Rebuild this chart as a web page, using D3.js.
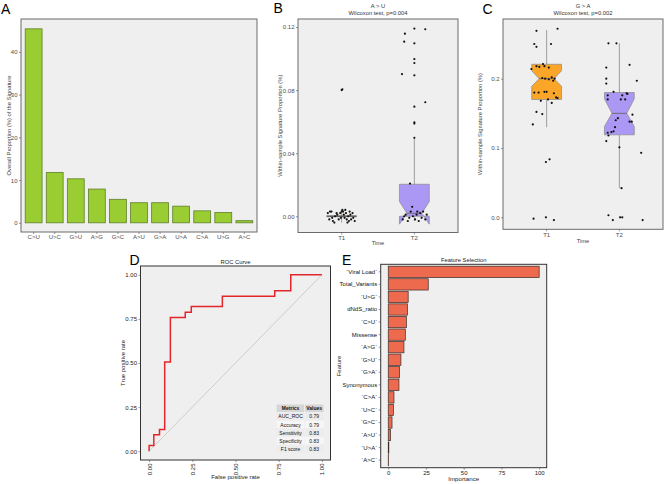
<!DOCTYPE html>
<html><head><meta charset="utf-8">
<script src="https://cdn.jsdelivr.net/npm/d3@7"></script>
<style>
body{margin:0;background:#fff;}
svg{display:block;font-family:"Liberation Sans",Arial,sans-serif;}
</style></head><body>
<svg id="chart" width="666" height="484"></svg>
<script>
// ---------- Panel A data ----------
const aCats = ["C>U","U>C","G>U","A>G","G>C","A>U","G>A","U>A","C>A","U>G","A>C"];
const aVals = [45.4,11.8,10.3,7.9,5.5,4.7,4.7,3.9,2.8,2.4,0.5];
const aTicks = [0,10,20,30,40];

// ---------- Panel B data (A > U) ----------
const groups = ["T1","T2"];
const bTicks = [0,0.04,0.08,0.12];
// box stats: [lowerWhisker, q1, median, q3, upperWhisker, notchLow, notchHigh]
const bBoxT1 = [-0.004,-0.0003,0,0.0003,0.004,-0.0002,0.0002];
const bBoxT2 = [-0.003,0.0,0.0019,0.0203,0.0498,-0.005,0.0093];
// points: [jitter (category units), value]
const bPtsT1 = [[-0.19,0.002],[-0.16,0.003],[-0.17,-0.002],[-0.14,0.003],[-0.12,-0.003],[-0.13,-0.001],[-0.09,0.000],[-0.06,0.001],[-0.04,-0.002],[-0.02,0.002],[0.0,0.003],[0.01,0.004],[0.02,0.003],[0.03,0.001],[0.05,0.004],[0.06,0.002],[0.04,-0.001],[0.07,-0.002],[0.09,0.000],[0.1,-0.003],[0.12,0.001],[0.13,-0.002],[0.15,0.002],[0.16,-0.001],[0.18,-0.003],[-0.1,-0.004],[0.08,-0.004],[-0.07,0.002],[0.11,0.003],[-0.01,-0.001],[0.0,0.080],[0.01,0.0805]];
const bPtsT2 = [[0.0,0.119],[0.15,0.1186],[-0.13,0.1158],[-0.14,0.1107],[0.0,0.1097],[0.0,0.0997],[0.0,0.0972],[-0.17,0.0902],[0.0,0.0894],[0.15,0.0723],[0.0,0.0695],[0.0,0.0596],[0.0,0.0588],[0.0,0.0498],[-0.06,0.0207],[-0.16,-0.002],[-0.12,0.001],[-0.09,-0.003],[-0.05,0.003],[-0.02,0.000],[0.01,-0.002],[0.03,0.001],[0.06,-0.003],[0.08,0.002],[0.1,-0.001],[0.12,0.003],[0.15,-0.002],[-0.14,0.000],[-0.07,-0.001],[0.04,0.003],[-0.03,0.006],[0.17,0.001]];

// ---------- Panel C data (G > A) ----------
const cTicks = [0,0.1,0.2];
const cBoxT1 = [0.13,0.170,0.200,0.2208,0.27,0.189,0.2115];
const cBoxT2 = [0.042,0.119,0.150,0.180,0.251,0.131,0.171];
const cPtsT1 = [[-0.14,0.269],[0.15,0.272],[-0.17,0.25],[-0.14,0.246],[0.06,0.25],[-0.21,0.214],[-0.14,0.218],[-0.1,0.217],[-0.05,0.221],[-0.03,0.218],[0.03,0.216],[-0.06,0.201],[-0.02,0.2],[0.03,0.199],[0.07,0.202],[0.09,0.197],[0.11,0.2],[-0.17,0.18],[-0.11,0.18],[-0.03,0.181],[0.0,0.181],[0.1,0.179],[0.13,0.173],[0.15,0.172],[-0.08,0.168],[0.02,0.17],[0.07,0.165],[-0.14,0.152],[-0.06,0.149],[-0.19,0.134],[-0.01,0.0798],[0.04,0.0837],[-0.18,-0.002],[-0.01,0.0],[0.1,-0.004]];
const cPtsT2 = [[-0.15,0.251],[-0.04,0.251],[0.14,0.22],[-0.18,0.216],[-0.18,0.2],[-0.18,0.193],[0.24,0.197],[-0.08,0.181],[-0.16,0.176],[0.04,0.176],[0.1,0.179],[0.11,0.178],[-0.16,0.17],[0.02,0.17],[0.08,0.17],[0.18,0.148],[-0.05,0.14],[-0.02,0.143],[0.14,0.138],[0.17,0.138],[-0.06,0.13],[-0.16,0.122],[-0.11,0.123],[-0.08,0.124],[-0.15,0.118],[-0.18,0.11],[0.0,0.101],[0.3,0.093],[0.03,0.042],[-0.15,0.003],[-0.09,-0.004],[0.01,0.0],[0.04,0.0],[0.32,-0.004]];

// ---------- Panel D data (ROC) ----------
const rocFpr = [0,0,0.027,0.027,0.06,0.06,0.09,0.09,0.123,0.123,0.209,0.209,0.244,0.244,0.424,0.424,0.727,0.727,0.82,0.82,1];
const rocTpr = [0,0.032,0.032,0.093,0.093,0.123,0.123,0.505,0.505,0.758,0.758,0.788,0.788,0.82,0.82,0.879,0.879,0.909,0.909,1,1];
const rocTicks = [0,0.25,0.5,0.75,1];
const metricNames = ["AUC_ROC","Accuracy","Sensitivity","Specificity","F1 score"];
const metricValues = ["0.79","0.79","0.83","0.83","0.83"];

// ---------- Panel E data ----------
const features = ["`Viral Load`","Total_Variants","`U>G`","dNdS_ratio","`C>U`","Missense","`A>G`","`G>U`","`G>A`","Synonymous","`C>A`","`U>C`","`G>C`","`A>U`","`U>A`","`A>C`"];
const importance = [100,26.5,13.2,12.7,12.0,11.3,10.4,8.4,7.5,7.1,3.8,3.4,2.5,1.5,0.4,0.1];
const eTicks = [0,25,50,75,100];

// =====================================================
const svg = d3.select("#chart");
const BG = "#efefef", BORDER = "#6b6b6b", TICKTXT = "#4d4d4d";
const FS = 6;

function panelBg(x0,y0,x1,y1){
  svg.append("rect").attr("x",x0).attr("y",y0).attr("width",x1-x0).attr("height",y1-y0)
    .attr("fill",BG).attr("stroke","none");
}
function panelBorder(x0,y0,x1,y1,stroke){
  svg.append("rect").attr("x",x0).attr("y",y0).attr("width",x1-x0).attr("height",y1-y0)
    .attr("fill","none").attr("stroke",stroke||BORDER).attr("stroke-width",1);
}
function styleAxis(g,color){
  g.select(".domain").remove();
  g.selectAll(".tick line").attr("stroke","#555").attr("stroke-width",0.6);
  g.selectAll(".tick text").attr("fill",color||TICKTXT).attr("font-size",FS).attr("font-family","Liberation Sans, Arial, sans-serif");
}
function letter(t,x,y){
  svg.append("text").attr("x",x).attr("y",y).text(t).attr("font-size",14).attr("fill","#000");
}
function text(t,x,y,opts){
  const o = Object.assign({size:FS,anchor:"middle",fill:"#333",rotate:0},opts||{});
  const el = svg.append("text").attr("font-size",o.size).attr("fill",o.fill).attr("text-anchor",o.anchor).text(t);
  if(o.rotate){ el.attr("transform",`translate(${x},${y}) rotate(${o.rotate})`); }
  else el.attr("x",x).attr("y",y);
  if(o.weight) el.attr("font-weight",o.weight);
  return el;
}

// ---------------- Panel A ----------------
(function(){
  const x0=21,y0=19,x1=257,y1=232;
  panelBg(x0,y0,x1,y1);
  const x = d3.scaleBand().domain(aCats).range([x0,x1]).paddingInner(0.2).paddingOuter(0.2);
  const y = d3.scaleLinear().domain([-2.15,47.7]).range([y1,y0]);
  svg.append("g").selectAll("rect").data(aCats).join("rect")
    .attr("x",d=>x(d)).attr("width",x.bandwidth())
    .attr("y",(d,i)=>y(aVals[i])).attr("height",(d,i)=>y(0)-y(aVals[i]))
    .attr("fill","#9acd32").attr("stroke","#5f7f2a").attr("stroke-width",0.8);
  panelBorder(x0,y0,x1,y1);
  styleAxis(svg.append("g").attr("transform",`translate(${x0},0)`).call(d3.axisLeft(y).tickValues(aTicks).tickSize(2).tickPadding(1.5)));
  styleAxis(svg.append("g").attr("transform",`translate(0,${y1})`).call(d3.axisBottom(x).tickSize(2).tickPadding(1)));
  text("Overall Proportion (%) of the Signature",9,125.5,{rotate:-90,size:5.8,fill:"#444"}).attr("dy","0.35em");
  letter("A",1,13.5);
})();

// ---------------- Box panels ----------------
function boxPanel(cfg){
  const {x0,y0,x1,y1,domain,ticks,tickFmt,boxes,pts,cols,title1,title2,L,lx,ly,timeY} = cfg;
  panelBg(x0,y0,x1,y1);
  const x = d3.scaleBand().domain(groups).range([x0,x1]).paddingInner(0).paddingOuter(0.1);
  const step = x.step();
  const cx = g => x(g)+step/2;
  const y = d3.scaleLinear().domain(domain).range([y1,y0]);
  const hw = step*0.205;
  groups.forEach((g,i)=>{
    const [lo,q1,md,q3,hi,nl,nh] = boxes[i];
    const c = cx(g);
    const gg = svg.append("g");
    gg.append("line").attr("x1",c).attr("x2",c).attr("y1",y(q3)).attr("y2",y(hi)).attr("stroke","#7a7a7a").attr("stroke-width",0.7);
    gg.append("line").attr("x1",c).attr("x2",c).attr("y1",y(q1)).attr("y2",y(lo)).attr("stroke","#7a7a7a").attr("stroke-width",0.7);
    const ind = hw*0.5;
    const poly = [[c-hw,y(q3)],[c-hw,y(nh)],[c-hw+ind,y(md)],[c-hw,y(nl)],[c-hw,y(q1)],[c+hw,y(q1)],[c+hw,y(nl)],[c+hw-ind,y(md)],[c+hw,y(nh)],[c+hw,y(q3)]];
    gg.append("path").attr("d",d3.line()(poly)+"Z").attr("fill",cols[i]).attr("stroke","#8a8a8a").attr("stroke-width",0.7);
    gg.append("line").attr("x1",c-hw+ind).attr("x2",c+hw-ind).attr("y1",y(md)).attr("y2",y(md)).attr("stroke","#666").attr("stroke-width",0.9);
    if(q3-q1 < 0.001){
      gg.append("line").attr("x1",c-hw).attr("x2",c+hw).attr("y1",y(md)).attr("y2",y(md)).attr("stroke","#555").attr("stroke-width",0.9);
    }
    svg.append("g").selectAll("circle").data(pts[i]).join("circle")
      .attr("cx",d=>c+d[0]*step).attr("cy",d=>y(d[1])).attr("r",1.1).attr("fill","#111");
  });
  panelBorder(x0,y0,x1,y1);
  styleAxis(svg.append("g").attr("transform",`translate(${x0},0)`).call(d3.axisLeft(y).tickValues(ticks).tickFormat(d3.format(tickFmt)).tickSize(2).tickPadding(1.5)));
  styleAxis(svg.append("g").attr("transform",`translate(0,${y1})`).call(d3.axisBottom(x).tickSize(2).tickPadding(1)));
  const mid=(x0+x1)/2;
  text(title1,mid,8,{size:5.8});
  text(title2,mid,15,{size:5.8});
  text("Time",mid,timeY,{size:5.8,fill:"#444"});
  text("Within-sample Signature Proportion (%)",L,(y0+y1)/2,{rotate:-90,size:5.8,fill:"#444"}).attr("dy","0.35em");
  letter(cfg.letter,lx,ly);
}
boxPanel({x0:298,y0:19,x1:458,y1:232.5,domain:[-0.0103,0.1251],ticks:bTicks,tickFmt:".2f",
  boxes:[bBoxT1,bBoxT2],pts:[bPtsT1,bPtsT2],cols:["#fba629","#ab98f5"],
  title1:"A > U",title2:"Wilcoxon test, p=0.004",L:280,lx:273.5,ly:13,timeY:244.5,letter:"B"});
boxPanel({x0:503,y0:19,x1:663,y1:229.3,domain:[-0.0173,0.2861],ticks:cTicks,tickFmt:".1f",
  boxes:[cBoxT1,cBoxT2],pts:[cPtsT1,cPtsT2],cols:["#fba629","#ab98f5"],
  title1:"G > A",title2:"Wilcoxon test, p=0.002",L:480,lx:482.5,ly:13.5,timeY:243,letter:"C"});

// ---------------- Panel D ----------------
(function(){
  const x0=140.5,y0=266,x1=330.5,y1=460;
  panelBg(x0,y0,x1,y1);
  const x = d3.scaleLinear().domain([-0.05,1.05]).range([x0,x1]);
  const y = d3.scaleLinear().domain([-0.05,1.05]).range([y1,y0]);
  svg.append("line").attr("x1",x(0)).attr("y1",y(0)).attr("x2",x(1)).attr("y2",y(1)).attr("stroke","#c4c4c4").attr("stroke-width",0.8);
  const pts = rocFpr.map((f,i)=>[x(f),y(rocTpr[i])]);
  svg.append("path").attr("d",d3.line()(pts)).attr("fill","none").attr("stroke","#e3262a").attr("stroke-width",1.5);
  // table
  const tx0 = x(0.738), tx1 = x(1.01), tsplit = x(0.9);
  const rowH = 8.1, ty0 = 404.5;
  const rows = [["Metrics","Values"]].concat(metricNames.map((m,i)=>[m,metricValues[i]]));
  rows.forEach((r,i)=>{
    const fill = i===0 ? "#d6d6d6" : (i%2===1 ? "#ececec" : "#f6f6f6");
    svg.append("rect").attr("x",tx0).attr("y",ty0+i*rowH).attr("width",tsplit-tx0-0.5).attr("height",rowH-0.6).attr("fill",fill);
    svg.append("rect").attr("x",tsplit+0.5).attr("y",ty0+i*rowH).attr("width",tx1-tsplit-0.5).attr("height",rowH-0.6).attr("fill",fill);
    text(r[0],(tx0+tsplit)/2,ty0+i*rowH+rowH/2,{size:5,fill:"#111",weight:i===0?"bold":null}).attr("dy","0.35em");
    text(r[1],(tsplit+tx1)/2,ty0+i*rowH+rowH/2,{size:5,fill:"#111",weight:i===0?"bold":null}).attr("dy","0.35em");
  });
  panelBorder(x0,y0,x1,y1,"#333");
  styleAxis(svg.append("g").attr("transform",`translate(${x0},0)`).call(d3.axisLeft(y).tickValues(rocTicks).tickFormat(d3.format(".2f")).tickSize(2).tickPadding(1.5)),"#222");
  const gx = svg.append("g").attr("transform",`translate(0,${y1})`).call(d3.axisBottom(x).tickValues(rocTicks).tickFormat(d3.format(".2f")).tickSize(2).tickPadding(1.5));
  styleAxis(gx,"#222");
  gx.selectAll(".tick text").attr("transform","rotate(-90)").attr("text-anchor","end").attr("x",-3.5).attr("y",0).attr("dy","0.35em");
  text("ROC Curve",(x0+x1)/2,263.5,{size:5.8,fill:"#222"});
  text("False positive rate",(x0+x1)/2,479,{size:6,fill:"#222"});
  text("True positive rate",123,(y0+y1)/2,{rotate:-90,size:6,fill:"#222"}).attr("dy","0.35em");
  letter("D",129.5,265);
})();

// ---------------- Panel E ----------------
(function(){
  const x0=380.7,y0=264.3,x1=546.7,y1=467.7;
  panelBg(x0,y0,x1,y1);
  const x = d3.scaleLinear().domain([-5,105]).range([x0,x1]);
  const y = d3.scaleBand().domain(features).range([y0,y1]).paddingInner(0.1).paddingOuter(0.15);
  svg.append("g").selectAll("rect").data(features).join("rect")
    .attr("x",x(0)).attr("y",d=>y(d)).attr("height",y.bandwidth())
    .attr("width",(d,i)=>Math.max(0.4,x(importance[i])-x(0)))
    .attr("fill","#ee6a4f").attr("stroke","#3a2a26").attr("stroke-width",0.7);
  panelBorder(x0,y0,x1,y1,"#333");
  styleAxis(svg.append("g").attr("transform",`translate(${x0},0)`).call(d3.axisLeft(y).tickSize(2).tickPadding(1.5)),"#111");
  styleAxis(svg.append("g").attr("transform",`translate(0,${y1})`).call(d3.axisBottom(x).tickValues(eTicks).tickSize(2).tickPadding(1)),"#222");
  text("Feature Selection",(x0+x1)/2,261.5,{size:5.8,fill:"#222"});
  text("Importance",(x0+x1)/2,481,{size:6.2,fill:"#222"});
  text("Feature",338.5,(y0+y1)/2,{rotate:-90,size:6,fill:"#222"}).attr("dy","0.35em");
  letter("E",342,265);
})();
</script>
</body></html>
